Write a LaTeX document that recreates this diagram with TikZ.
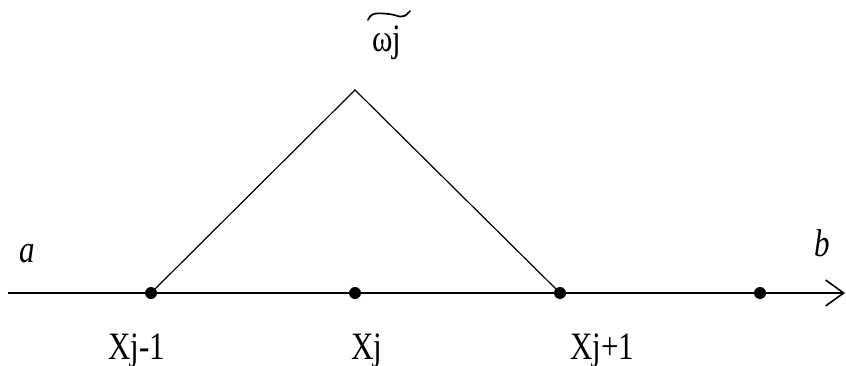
\documentclass[tikz,border=0pt]{standalone}
\usepackage{fontspec}
\usepackage{graphicx}
\setmainfont{LiberationSerif}[Extension=.ttf, UprightFont=*-Regular, ItalicFont=*-Italic, BoldFont=*-Bold]
\usetikzlibrary{arrows.meta}
\newcommand{\tallbox}[1]{\scalebox{1}[1.25]{#1}}
\tikzset{
  axisline/.style={line width=1.8pt, -{Straight Barb[length=18pt,width=26pt,line width=1.6pt]}},
  hatline/.style={line width=1.2pt},
  tildeline/.style={line width=1.7pt, line cap=round},
  dotnode/.style={circle, fill=black, inner sep=0pt, minimum size=12pt},
  lab/.style={anchor=base, inner sep=0pt, font=\fontsize{31}{31}\selectfont}
}
\begin{document}
\begin{tikzpicture}[x=1pt,y=-1pt]
\useasboundingbox (0,0) rectangle (846,366);
\coordinate (start) at (8,293);
\coordinate (tip) at (845,293);
\draw[axisline] (start) -- (tip);
\node[dotnode] (d1) at (151,293) {};
\node[dotnode] (d2) at (355,293) {};
\node[dotnode] (d3) at (560,293) {};
\node[dotnode] (d4) at (760,293) {};
\coordinate (peak) at (355,90);
\draw[hatline] (d1.center) -- (peak) -- (d3.center);
\node[lab] (l1) at (137,359) {\tallbox{Xj-1}};
\node[lab] (l2) at (367,359) {\tallbox{Xj}};
\node[lab] (l3) at (602,359) {\tallbox{Xj+1}};
\node[lab] (la) at (27,262) {\tallbox{\itshape a}};
\node[lab] (lb) at (822,257) {\tallbox{\itshape b}};
\node[lab] (lw) at (387,52) {\tallbox{ωj}};
\draw[tildeline] (368,20) .. controls (371,12) and (378,13) .. (389,14)
  .. controls (399,15) and (402,21) .. (410,11);
\end{tikzpicture}
\end{document}
